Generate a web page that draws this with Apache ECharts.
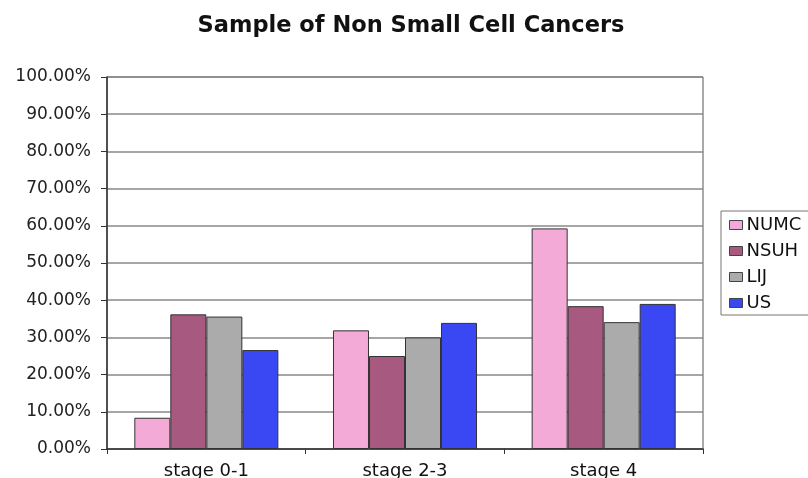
<!DOCTYPE html>
<html><head><meta charset="utf-8">
<script src="https://cdn.jsdelivr.net/npm/echarts@6/dist/echarts.min.js"></script>
<style>html,body{margin:0;padding:0;background:#fff}#c{width:808px;height:478px}</style>
</head><body><div id="c"></div>
<script>
const categories = ['stage 0-1', 'stage 2-3', 'stage 4'];
const seriesNames = ['NUMC', 'NSUH', 'LIJ', 'US'];
const NUMC = [8.4, 31.9, 59.3];
const NSUH = [36.2, 25.0, 38.4];
const LIJ = [35.6, 30.0, 34.1];
const US = [26.6, 33.9, 39.0];
const colors = ['#F4AAD6', '#A8597F', '#ABABAB', '#3A48F4'];
const values = [NUMC, NSUH, LIJ, US];

const chart = echarts.init(document.getElementById('c'), null, {renderer: 'canvas'});
const font = 'DejaVu Sans, sans-serif';
chart.setOption({
  animation: false,
  title: {
    text: 'Sample of Non Small Cell Cancers',
    left: 406, top: 10, textAlign: 'center',
    textStyle: {fontFamily: font, fontSize: 22.5, fontWeight: 'bold', color: '#111'}
  },
  legend: {
    orient: 'vertical', left: 721, top: 211,
    itemWidth: 13, itemHeight: 9, itemGap: 8,
    padding: [5, 40, 3, 8],
    borderColor: '#777', borderWidth: 1,
    icon: 'rect',
    textStyle: {fontFamily: font, fontSize: 18, color: '#111', padding: [0, 0, 0, -1]},
    data: seriesNames.map((n, i) => ({name: n, itemStyle: {borderColor: '#444', borderWidth: 1}}))
  },
  grid: {left: 107, right: 105, top: 77, bottom: 29, show: true, borderColor: '#555', borderWidth: 1,
    containLabel: false, outerBoundsMode: 'none'},
  xAxis: {
    type: 'category', data: categories,
    axisLine: {lineStyle: {color: '#333', width: 1.5}},
    axisTick: {show: true, length: 5, lineStyle: {color: '#333'}},
    axisLabel: {fontFamily: font, fontSize: 18, color: '#111', margin: 13}
  },
  yAxis: {
    type: 'value', min: 0, max: 100, interval: 10,
    axisLine: {show: true, lineStyle: {color: '#333', width: 1.5}},
    axisTick: {show: true, length: 6, lineStyle: {color: '#333'}},
    axisLabel: {fontFamily: font, fontSize: 17, color: '#222', margin: 16,
      formatter: v => v.toFixed(2) + '%'},
    splitLine: {lineStyle: {color: '#888', width: 1.5}}
  },
  series: seriesNames.map((n, i) => ({
    name: n, type: 'bar', data: values[i],
    barGap: '0%', barCategoryGap: '27.5%',
    itemStyle: {color: colors[i], borderColor: '#333', borderWidth: 1}
  }))
});
</script></body></html>
